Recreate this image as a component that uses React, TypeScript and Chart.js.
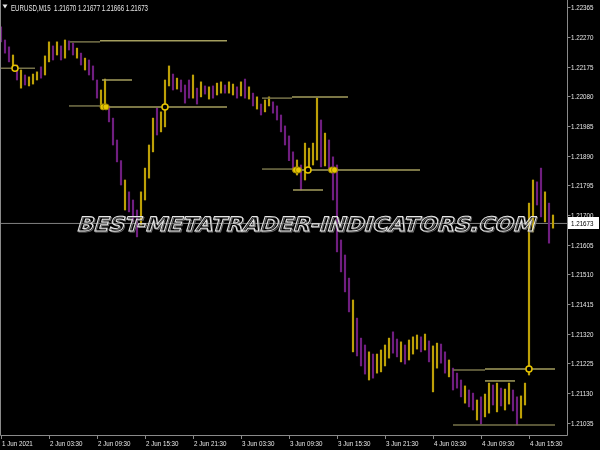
import React, { useEffect, useRef } from "react";
import { Chart, registerables } from "chart.js";

Chart.register(...registerables);

// ---------- data ----------
const symbolTitle = "EURUSD,M15  1.21670 1.21677 1.21666 1.21673";
const watermark = "BEST-METATRADER-INDICATORS.COM";

const timeLabels = [
  "1 Jun 2021", "2 Jun 03:30", "2 Jun 09:30", "2 Jun 15:30", "2 Jun 21:30", "3 Jun 03:30",
  "3 Jun 09:30", "3 Jun 15:30", "3 Jun 21:30", "4 Jun 03:30", "4 Jun 09:30", "4 Jun 15:30",
];
const timeTickIdx = [0, 24, 48, 72, 96, 120, 144, 168, 192, 216, 240, 264];

const priceTicks = [
  1.22365, 1.2227, 1.22175, 1.2208, 1.21985, 1.2189, 1.21795, 1.217, 1.21605, 1.2151, 1.21415,
  1.2132, 1.21225, 1.2113, 1.21035,
];
const lastPrice = 1.21673;

// one entry per 30 minutes (2 x M15 bars)
const barHigh = [
  1.22302, 1.2226, 1.22238, 1.22212, 1.2218, 1.22164, 1.22148, 1.22142, 1.22151, 1.22158,
  1.22174, 1.22209, 1.22254, 1.22241, 1.22254, 1.22241, 1.2226, 1.22257, 1.2225, 1.22234,
  1.22218, 1.22202, 1.22196, 1.22177, 1.22132, 1.221, 1.22135, 1.22049, 1.2201, 1.2194,
  1.21874, 1.21812, 1.21774, 1.21748, 1.21716, 1.21774, 1.2185, 1.21924, 1.2201, 1.22042,
  1.2203, 1.22132, 1.22177, 1.22151, 1.22138, 1.22132, 1.22116, 1.22132, 1.22148, 1.22106,
  1.22126, 1.22113, 1.2211, 1.22113, 1.22122, 1.22126, 1.22116, 1.22126, 1.22119, 1.2211,
  1.22126, 1.22135, 1.2211, 1.2209, 1.22078, 1.22055, 1.22068, 1.22078, 1.22062, 1.22049,
  1.2202, 1.21985, 1.21953, 1.21902, 1.21876, 1.2186, 1.2193, 1.21914, 1.2193, 1.22074,
  1.22004, 1.21962, 1.2194, 1.21886, 1.2186, 1.2162, 1.21572, 1.21498, 1.21428, 1.2137,
  1.21306, 1.21284, 1.21262, 1.21255, 1.21255, 1.21268, 1.21284, 1.21306, 1.21326, 1.21303,
  1.21294, 1.21284, 1.213, 1.2131, 1.21316, 1.2131, 1.21319, 1.21297, 1.21281, 1.2129,
  1.21287, 1.21262, 1.21236, 1.2121, 1.21194, 1.21172, 1.21153, 1.2114, 1.2113, 1.21108,
  1.21118, 1.21127, 1.21162, 1.21156, 1.21162, 1.21146, 1.21143, 1.21162, 1.2114, 1.21118,
  1.21121, 1.21162, 1.21738, 1.21812, 1.21806, 1.2185, 1.21774, 1.21738, 1.217,
];
const barLow = [
  1.22254, 1.22218, 1.2219, 1.2217, 1.22132, 1.22106, 1.22116, 1.22113, 1.22119, 1.22132,
  1.22138, 1.22148, 1.2219, 1.22196, 1.22212, 1.22196, 1.22202, 1.22228, 1.22212, 1.22202,
  1.2218, 1.22164, 1.22148, 1.22132, 1.22074, 1.22046, 1.22046, 1.21998, 1.21924, 1.2187,
  1.21796, 1.21716, 1.2171, 1.21678, 1.2163, 1.21668, 1.21748, 1.21818, 1.21902, 1.21956,
  1.21966, 1.21982, 1.22113, 1.221, 1.22103, 1.22094, 1.22058, 1.22074, 1.22074, 1.22055,
  1.22078, 1.22087, 1.22071, 1.22074, 1.22084, 1.2209, 1.2209, 1.2209, 1.22084, 1.22074,
  1.22081, 1.22074, 1.22071, 1.22049, 1.22039, 1.2202, 1.2203, 1.22049, 1.22026, 1.22004,
  1.21966, 1.21924, 1.21874, 1.21841, 1.21828, 1.2178, 1.21812, 1.21844, 1.2186, 1.21876,
  1.21854, 1.21857, 1.21844, 1.21748, 1.21582, 1.21518, 1.21454, 1.2139, 1.21262, 1.21249,
  1.21217, 1.21191, 1.21172, 1.21178, 1.21194, 1.21198, 1.21217, 1.21242, 1.21258, 1.21246,
  1.2123, 1.21223, 1.21236, 1.21255, 1.21271, 1.21262, 1.21268, 1.2123, 1.21134, 1.2121,
  1.21226, 1.21194, 1.21182, 1.2114, 1.21146, 1.21118, 1.21098, 1.21086, 1.21076, 1.21044,
  1.21031, 1.21054, 1.21066, 1.21092, 1.2107, 1.21089, 1.21076, 1.21095, 1.21073, 1.21028,
  1.2105, 1.21092, 1.21188, 1.21646, 1.21732, 1.21694, 1.21678, 1.2161, 1.21658,
];
const barDir = [
  "DDDUDUDUUU", "DUUDUDUDDU", "DUDDDUUDDD", "DUDDDUUUUD", "UUUDUDDDUD",
  "UDUDUUDUUD", "UDUDUDUUDD", "DDDDUDUUUU", "DUDDDDDDUD", "DDUDUUUUDD",
  "UDUUUDUDUU", "DDUDDDUDDU", "DUUDUDUUDD", "UUUUDDUDU",
].join("").split("");

// indicator level segments (M15 bar index start/end, price, bright flag)
const levelStart = [-0.5, 34.5, 49.5, 50.5, 34, 49.5, 130.5, 145.5, 130.5, 146, 146, 226, 242, 242, 226];
const levelEnd = [17, 49.5, 113, 65.5, 49.5, 113, 145.5, 173.5, 146, 209.5, 161, 242, 277, 257, 277];
const levelPrice = [
  1.2217, 1.22254, 1.22258, 1.22132, 1.22049, 1.22046, 1.22074, 1.22078, 1.21847, 1.21844,
  1.2178, 1.21204, 1.21207, 1.21169, 1.21028,
];
const levelBright = [0, 0, 1, 1, 0, 1, 0, 1, 0, 1, 1, 0, 1, 1, 0];

// signal markers
const dotIdx = [51, 52.5, 147.25, 148.75, 165.25, 166.75];
const dotPrice = [1.22046, 1.22046, 1.21844, 1.21844, 1.21844, 1.21844];
const ringIdx = [7, 82, 153.5, 264];
const ringPrice = [1.2217, 1.22046, 1.21844, 1.21207];

// ---------- styling ----------
const UP = "#bda007";
const DOWN = "#701e80";
const LEVEL_DIM = "#77734a";
const LEVEL_BRIGHT = "#a49e5e";
const MARK = "#e8c600";
const TEXT = "#e8e8e8";
const FRAME = "#8a8a8a";
const SQUEEZE = 0.83;

const fitText = (ctx: CanvasRenderingContext2D, t: string, x: number, y: number) => {
  const w = ctx.measureText(t).width;
  ctx.fillText(t, x, y, w * SQUEEZE);
};

const mt4Plugin = {
  id: "mt4",
  afterDatasetsDraw(chart: any) {
    const { ctx, chartArea: a } = chart;
    ctx.save();
    ctx.beginPath();
    ctx.rect(a.left, a.top, a.right - a.left, a.bottom - a.top);
    ctx.clip();
    ctx.font = 'bold 20px "DejaVu Sans", sans-serif';
    const w = ctx.measureText(watermark).width;
    const target = 458;
    ctx.translate(76, 231);
    ctx.transform(1, 0, -0.3, 1, 0, 0);
    ctx.scale(target / w, 1);
    ctx.lineJoin = "miter";
    ctx.lineWidth = 0.9;
    ctx.strokeStyle = "#6e6e6e";
    ctx.strokeText(watermark, 1.2, 0.8);
    ctx.lineWidth = 1;
    ctx.strokeStyle = "#e6e6e6";
    ctx.strokeText(watermark, 0, 0);
    ctx.restore();
  },
  afterDraw(chart: any) {
    const { ctx, chartArea: a, scales } = chart;
    const x = scales.x;
    const y = scales.y;
    ctx.save();
    // frame
    ctx.strokeStyle = FRAME;
    ctx.lineWidth = 1;
    ctx.beginPath();
    ctx.moveTo(a.left + 0.5, a.top);
    ctx.lineTo(a.left + 0.5, a.bottom + 0.5);
    ctx.lineTo(a.right + 0.5, a.bottom + 0.5);
    ctx.lineTo(a.right + 0.5, a.top);
    ctx.stroke();

    // price axis
    ctx.font = '7.5px "Liberation Sans", Arial, sans-serif';
    ctx.fillStyle = TEXT;
    ctx.textAlign = "left";
    ctx.textBaseline = "alphabetic";
    priceTicks.forEach((p) => {
      const py = Math.round(y.getPixelForValue(p)) + 0.5;
      ctx.beginPath();
      ctx.moveTo(a.right + 1, py);
      ctx.lineTo(a.right + 3.5, py);
      ctx.stroke();
      fitText(ctx, p.toFixed(5), a.right + 4, py + 2.7);
    });

    // time axis
    timeTickIdx.forEach((idx, i) => {
      const px = Math.round(x.getPixelForValue(idx)) + 0.5;
      ctx.beginPath();
      ctx.moveTo(px, a.bottom + 1);
      ctx.lineTo(px, a.bottom + 4);
      ctx.stroke();
      fitText(ctx, timeLabels[i], px + 0.5, a.bottom + 10.5);
    });

    // current price tag
    const ly = y.getPixelForValue(lastPrice);
    ctx.fillStyle = "#ffffff";
    ctx.fillRect(a.right + 1, Math.round(ly) - 6, 600 - a.right - 2, 12);
    ctx.fillStyle = "#000000";
    fitText(ctx, lastPrice.toFixed(5), a.right + 4, Math.round(ly) + 3);

    // header
    ctx.fillStyle = TEXT;
    ctx.beginPath();
    ctx.moveTo(2.5, 4.5);
    ctx.lineTo(7.5, 4.5);
    ctx.lineTo(5, 8.5);
    ctx.closePath();
    ctx.fill();
    ctx.font = '8.5px "Liberation Sans", Arial, sans-serif';
    const hw = ctx.measureText(symbolTitle).width;
    ctx.fillText(symbolTitle, 11, 10.5, Math.min(hw, 137));
    ctx.restore();
  },
};

export default function App() {
  const ref = useRef<HTMLCanvasElement>(null);
  useEffect(() => {
    if (!ref.current) return;
    const levelSets = levelPrice.map((p, i) => ({
      type: "line" as const,
      data: [
        { x: levelStart[i], y: p },
        { x: levelEnd[i], y: p },
      ],
      borderColor: levelBright[i] ? LEVEL_BRIGHT : LEVEL_DIM,
      borderWidth: 1.5,
      pointRadius: 0,
      order: 3,
    }));
    const chart = new Chart(ref.current, {
      type: "bar",
      data: {
        datasets: [
          {
            type: "line",
            data: [
              { x: -0.5, y: lastPrice },
              { x: 283, y: lastPrice },
            ],
            borderColor: "#808080",
            borderWidth: 1,
            pointRadius: 0,
            order: 9,
          } as any,
          {
            type: "bar",
            data: barHigh.map((h, k) => ({ x: k * 2, y: [barLow[k], h] })),
            backgroundColor: barDir.map((d) => (d === "U" ? UP : DOWN)),
            borderWidth: 0,
            barThickness: 1.5,
            order: 5,
          } as any,
          ...levelSets,
          {
            type: "line",
            data: dotIdx.map((v, i) => ({ x: v, y: dotPrice[i] })),
            showLine: false,
            pointRadius: 3,
            pointBackgroundColor: MARK,
            pointBorderColor: "#9a8400",
            pointBorderWidth: 1,
            order: 1,
          } as any,
          {
            type: "line",
            data: ringIdx.map((v, i) => ({ x: v, y: ringPrice[i] })),
            showLine: false,
            pointRadius: 3,
            pointBackgroundColor: "#000000",
            pointBorderColor: MARK,
            pointBorderWidth: 1.5,
            order: 1,
          } as any,
        ],
      },
      options: {
        animation: false,
        responsive: false,
        events: [],
        layout: { autoPadding: false, padding: { left: 0, top: 0, right: 33, bottom: 15 } },
        plugins: { legend: { display: false }, tooltip: { enabled: false } },
        scales: {
          x: { type: "linear", display: false, min: -0.5, max: 283, offset: false },
          y: { type: "linear", display: false, min: 1.20996, max: 1.22388, beginAtZero: false },
        },
      },
      plugins: [mt4Plugin],
    } as any);
    return () => chart.destroy();
  }, []);
  return (
    <div style={{ position: "fixed", left: 0, top: 0, width: 600, height: 450, background: "#000" }}>
      <canvas ref={ref} width={600} height={450} style={{ display: "block" }} />
    </div>
  );
}
